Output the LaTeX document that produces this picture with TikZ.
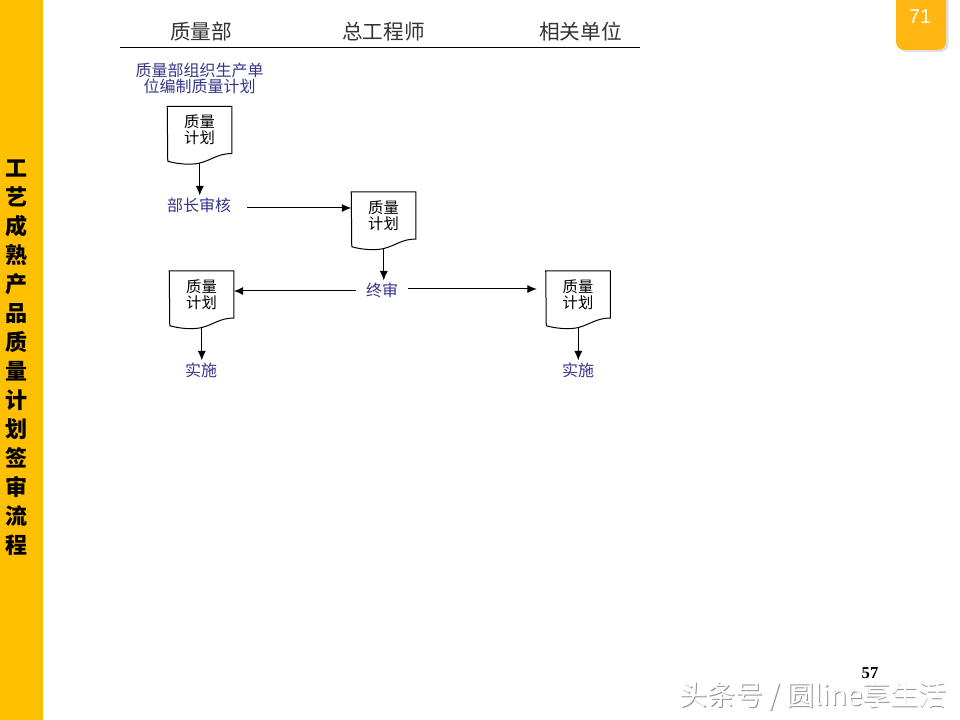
\documentclass[tikz,border=0pt]{standalone}
\usepackage{fontspec}
\setmainfont{Noto Sans CJK SC}
\newfontfamily\numfont{Liberation Sans}
\newfontfamily\pagefont{Liberation Serif}
\usetikzlibrary{arrows.meta,shadows}
\definecolor{bandyellow}{HTML}{FFC000}
\definecolor{tabyellow}{HTML}{FFB612}
\definecolor{labelblue}{HTML}{35358A}
\definecolor{headgray}{HTML}{333333}
\tikzset{
  heading/.style={font=\fontsize{15.5}{16}\selectfont,text=headgray,inner sep=0},
  doc/.style={minimum width=48pt,minimum height=34.9pt,inner sep=0,align=center,font=\fontsize{11.5}{12}\selectfont},
  steplabel/.style={font=\fontsize{12}{12}\selectfont,text=labelblue,inner xsep=7.5pt,inner ysep=1.5pt,align=center},
  link/.style={line width=0.75pt,-{Latex[length=7pt,width=6pt]}},
  docline/.style={line width=0.75pt}
}
\begin{document}
\begin{tikzpicture}[x=0.75pt,y=-0.75pt]
\useasboundingbox (0,0) rectangle (960,720);
% band and tab
\fill [bandyellow] (0,0) rectangle (43,720);
\node [font=\fontsize{16.5}{21.75}\selectfont\bfseries,align=center,inner sep=0] (bandtext) at (16,358) {工\\艺\\成\\熟\\产\\品\\质\\量\\计\\划\\签\\审\\流\\程};
\path [fill=tabyellow,rounded corners=6pt,drop shadow={shadow xshift=2pt,shadow yshift=-1.5pt,opacity=.25}] (896,-12) rectangle (946,50);
\node [font=\fontsize{15}{16}\numfont,text=white,inner sep=0] (tabnum) at (920,17) {71};

% heading
\node [heading] (quality) at (201,32) {质量部};
\node [heading] (chief) at (383.5,32) {总工程师};
\node [heading] (units) at (580.5,32) {相关单位};
\coordinate (ruleleft) at (120,48);
\coordinate (ruleright) at (640,48);
\draw [line width=0.75pt] (ruleleft) -- (ruleright);

% nodes
\node [steplabel] (prepare) at (199.5,78) {质量部组织生产单\\位编制质量计划};
\node [doc] (doca) at (199.5,130) {质量\\计划};
\node [steplabel,inner xsep=12pt] (review) at (199,205) {部长审核};
\node [doc] (docb) at (383.5,215.5) {质量\\计划};
\node [steplabel] (final) at (382,290) {终审};
\node [doc] (docc) at (201.5,294.5) {质量\\计划};
\node [doc] (docd) at (578,294.5) {质量\\计划};
\node [steplabel] (applya) at (201,370) {实施};
\node [steplabel] (applyb) at (578,370) {实施};

\foreach \n in {doca,docb,docc,docd}
  \draw [docline] (\n.south east) .. controls +(-14,0) and +(12,-3) .. ++(-32,9.5) coordinate (\n-foot)
    .. controls +(-8,2) and +(10,3) .. ++(-32,-1.8) -- (\n.north west) -- (\n.north east) -- cycle;

% connectors
\draw [link] (doca-foot) -- (doca-foot |- review.north);
\draw [link] ([yshift=-2.25pt]review.east) -- ([yshift=-2.25pt]review.east -| docb.west);
\draw [link] (docb-foot) -- (docb-foot |- final.north);
\draw [link] ([yshift=-0.75pt]final.west) -- ([yshift=-0.75pt]final.west -| docc.east);
\draw [link,shorten >=6.75pt] ([yshift=0.75pt]final.east) -- ([yshift=0.75pt]final.east -| docd.west);
\draw [link] (docc-foot) -- (docc-foot |- applya.north);
\draw [link] (docd-foot) -- (docd-foot |- applyb.north);

% page number and mark
\node [font=\fontsize{12.5}{13}\pagefont\bfseries,inner sep=0] (pagenum) at (870,673) {57};
\node [font=\fontsize{21}{22}\selectfont,text=gray!85,inner sep=0] (markshade) at (814,697) {头条号 / 圆line享生活};
\node [font=\fontsize{21}{22}\selectfont,text=white,inner sep=0] (mark) at (813.3,696.3) {头条号 / 圆line享生活};
\end{tikzpicture}
\end{document}
